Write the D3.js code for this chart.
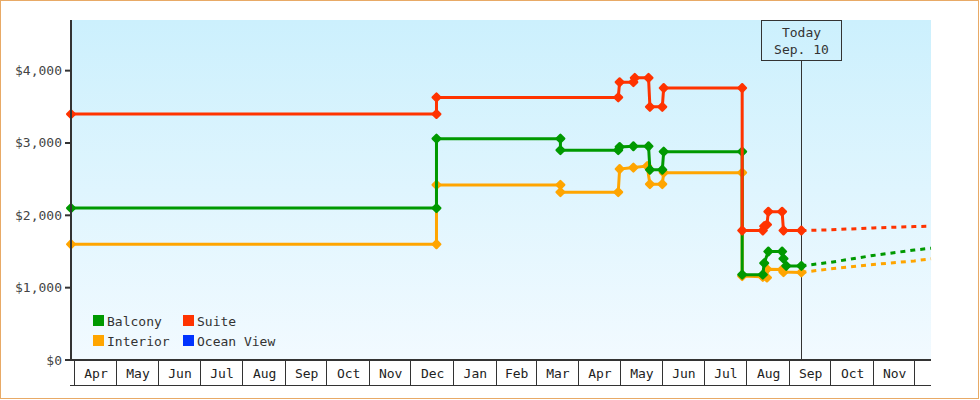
<!DOCTYPE html>
<html><head><meta charset="utf-8">
<script src="https://cdn.jsdelivr.net/npm/d3@7"></script>
<style>
html,body{margin:0;padding:0;background:#fff}
svg{display:block}
text{font-family:"DejaVu Sans Mono",monospace;font-size:13px}
</style>
</head><body>
<svg id="chart" width="980" height="400"></svg>
<script>
// ---- data ----
const seriesNames = ["Balcony", "Suite", "Interior", "Ocean View"];
const seriesColors = ["#009900", "#ff3300", "#ffa500", "#0033ff"];

const balcony = [
  ["2023-03-29 14:00", 2100], ["2023-12-20", 2100], ["2023-12-20", 3060],
  ["2024-03-19", 3060], ["2024-03-19", 2900], ["2024-04-30", 2900],
  ["2024-05-01", 2945], ["2024-05-11", 2955], ["2024-05-22", 2955],
  ["2024-05-23", 2630], ["2024-06-01", 2630], ["2024-06-02", 2880],
  ["2024-07-29", 2880], ["2024-07-29", 1180], ["2024-08-13", 1180],
  ["2024-08-14", 1340], ["2024-08-17", 1500], ["2024-08-27", 1500],
  ["2024-08-28", 1400], ["2024-08-30", 1300], ["2024-09-10", 1300]
];
const suite = [
  ["2023-03-29 14:00", 3400], ["2023-12-20", 3400], ["2023-12-20", 3630],
  ["2024-04-30", 3630], ["2024-05-01", 3840], ["2024-05-11", 3840],
  ["2024-05-12", 3900], ["2024-05-22", 3900], ["2024-05-23", 3500],
  ["2024-06-01", 3500], ["2024-06-02", 3760], ["2024-07-29", 3760],
  ["2024-07-29", 1790], ["2024-08-13", 1790], ["2024-08-14", 1850],
  ["2024-08-16", 1870], ["2024-08-17", 2050], ["2024-08-27", 2050],
  ["2024-08-28", 1790], ["2024-09-10", 1790]
];
const interior = [
  ["2023-03-29 14:00", 1600], ["2023-12-20", 1600], ["2023-12-20", 2420],
  ["2024-03-19", 2420], ["2024-03-19", 2320], ["2024-04-30", 2320],
  ["2024-05-01", 2640], ["2024-05-11", 2660], ["2024-05-21", 2680],
  ["2024-05-23", 2430], ["2024-06-01", 2430], ["2024-06-02", 2590],
  ["2024-07-29", 2590], ["2024-07-29", 1160], ["2024-08-13", 1150],
  ["2024-08-16", 1140], ["2024-08-16", 1255], ["2024-08-27", 1250],
  ["2024-08-28", 1215], ["2024-09-10", 1210]
];
const oceanView = [];

const balconyForecast = [["2024-09-10", 1300], ["2024-10-01", 1350], ["2024-11-01", 1445], ["2024-12-01", 1520], ["2024-12-13 03:00", 1545]];
const suiteForecast = [["2024-09-10", 1790], ["2024-10-01", 1800], ["2024-11-01", 1825], ["2024-12-01", 1845], ["2024-12-13 03:00", 1850]];
const interiorForecast = [["2024-09-10", 1210], ["2024-10-01", 1260], ["2024-11-01", 1320], ["2024-12-01", 1370], ["2024-12-13 03:00", 1400]];
const oceanViewForecast = [];

const yTicks = [0, 1000, 2000, 3000, 4000];
const yMax = 4700;
const domainStart = "2023-03-29 14:00";
const domainEnd = "2024-12-13 03:00";
const todayDate = "2024-09-10";
const todayLabel = ["Today", "Sep. 10"];

// ---- drawing ----
const parseA = d3.timeParse("%Y-%m-%d %H:%M"), parseB = d3.timeParse("%Y-%m-%d");
const parse = s => s.length > 10 ? parseA(s) : parseB(s);

const svg = d3.select("#chart");
const L = 71, R = 931, T = 20, B = 360;

const x = d3.scaleTime().domain([parse(domainStart), parse(domainEnd)]).range([L, R]);
const y = d3.scaleLinear().domain([0, yMax]).range([B, T]);

// frame
svg.append("rect").attr("x", 0.5).attr("y", 0.5).attr("width", 978).attr("height", 398)
  .attr("fill", "#fff").attr("stroke", "#e8aa66");

// gradient background
const defs = svg.append("defs");
const g = defs.append("linearGradient").attr("id", "bg").attr("x1", 0).attr("y1", 0).attr("x2", 0).attr("y2", 1);
g.append("stop").attr("offset", "0%").attr("stop-color", "#ccf0fd");
g.append("stop").attr("offset", "100%").attr("stop-color", "#f2faff");
svg.append("rect").attr("x", L).attr("y", T).attr("width", R - L).attr("height", B - T).attr("fill", "url(#bg)");

// today marker
const tx = Math.round(x(parse(todayDate))) + 0.5;
svg.append("line").attr("x1", tx).attr("x2", tx).attr("y1", T + 40).attr("y2", B)
  .attr("stroke", "#333").attr("stroke-width", 1);
svg.append("rect").attr("x", tx - 40).attr("y", T + 0.5).attr("width", 80).attr("height", 40)
  .attr("fill", "none").attr("stroke", "#333").attr("stroke-width", 1);
svg.selectAll(".today").data(todayLabel).enter().append("text")
  .attr("x", tx).attr("y", (d, i) => T + 17 + i * 17).attr("text-anchor", "middle")
  .attr("fill", "#333").text(d => d);

// series
const lineGen = d3.line().x(d => x(parse(d[0]))).y(d => y(d[1]));
const diamond = "M0,-3.8L3.8,0L0,3.8L-3.8,0Z";
const solid = [
  {data: interior, color: seriesColors[2]},
  {data: balcony, color: seriesColors[0]},
  {data: suite, color: seriesColors[1]},
  {data: oceanView, color: seriesColors[3]}
];
const dashed = [
  {data: interiorForecast, color: seriesColors[2]},
  {data: balconyForecast, color: seriesColors[0]},
  {data: suiteForecast, color: seriesColors[1]},
  {data: oceanViewForecast, color: seriesColors[3]}
];
dashed.forEach(s => {
  if (!s.data.length) return;
  svg.append("path").attr("d", lineGen(s.data)).attr("fill", "none")
    .attr("stroke", s.color).attr("stroke-width", 3).attr("stroke-dasharray", "5,5");
});
solid.forEach(s => {
  if (!s.data.length) return;
  svg.append("path").attr("d", lineGen(s.data)).attr("fill", "none")
    .attr("stroke", s.color).attr("stroke-width", 3).attr("stroke-linejoin", "miter");
  svg.append("g").selectAll("path").data(s.data).enter().append("path")
    .attr("d", diamond).attr("fill", s.color).attr("stroke", s.color)
    .attr("stroke-width", 2.4).attr("stroke-linejoin", "round")
    .attr("transform", d => `translate(${x(parse(d[0]))},${y(d[1])})`);
});

// y axis
svg.append("line").attr("x1", L).attr("x2", L).attr("y1", T).attr("y2", B + 1)
  .attr("stroke", "#333").attr("stroke-width", 2);
const yt = svg.append("g").selectAll("g").data(yTicks).enter().append("g");
yt.append("line").attr("x1", L - 6).attr("x2", L).attr("y1", d => y(d)).attr("y2", d => y(d))
  .attr("stroke", "#333").attr("stroke-width", 2);
yt.append("text").attr("x", L - 9).attr("y", d => y(d) + 4.5).attr("text-anchor", "end")
  .attr("fill", "#444").text(d => "$" + d3.format(",")(d));

// x axis (month cells)
svg.append("line").attr("x1", L - 1).attr("x2", R).attr("y1", B).attr("y2", B)
  .attr("stroke", "#333").attr("stroke-width", 2);
svg.append("line").attr("x1", L - 1).attr("x2", R).attr("y1", 385.5).attr("y2", 385.5)
  .attr("stroke", "#333").attr("stroke-width", 1);
const [d0, d1] = x.domain();
const months = d3.timeMonth.range(d3.timeMonth.ceil(d0), d1);
svg.append("g").selectAll("line").data(months).enter().append("line")
  .attr("x1", d => Math.round(x(d)) + 0.5).attr("x2", d => Math.round(x(d)) + 0.5)
  .attr("y1", B).attr("y2", 385.5).attr("stroke", "#333").attr("stroke-width", 1);
const fmt = d3.timeFormat("%b");
svg.append("g").selectAll("text").data(months.filter(m => d3.timeMonth.offset(m, 1) <= d1)).enter().append("text")
  .attr("x", d => (x(d) + x(d3.timeMonth.offset(d, 1))) / 2 + 1)
  .attr("y", 377.5).attr("text-anchor", "middle").attr("fill", "#222").text(d => fmt(d));

// legend
const legendPos = [[93, 315], [183, 315], [93, 335], [183, 335]];
const lg = svg.append("g").selectAll("g").data(seriesNames).enter().append("g")
  .attr("transform", (d, i) => `translate(${legendPos[i][0]},${legendPos[i][1]})`);
lg.append("rect").attr("width", 11).attr("height", 11).attr("fill", (d, i) => seriesColors[i]);
lg.append("text").attr("x", 14).attr("y", 10.5).attr("fill", "#333").text(d => d);
</script>
</body></html>
